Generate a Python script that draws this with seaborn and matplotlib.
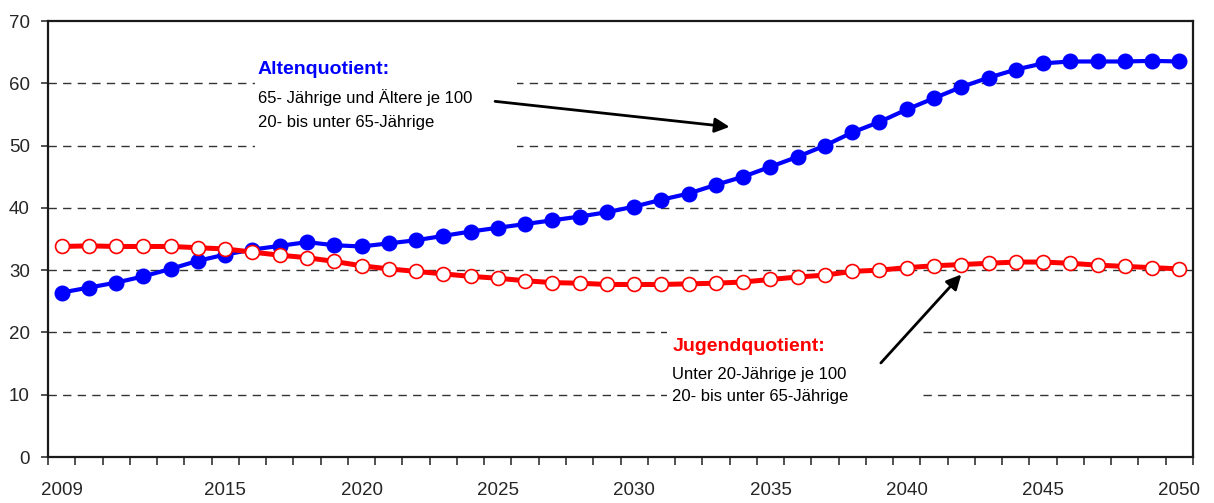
import numpy as np
import pandas as pd
import matplotlib
matplotlib.use("Agg")
import matplotlib.pyplot as plt
import seaborn as sns
from matplotlib.patches import Rectangle
from matplotlib.ticker import FixedLocator

years = list(range(2009, 2051))

# Altenquotient: 65-Jaehrige und Aeltere je 100 20- bis unter 65-Jaehrige
alten = [26.4, 27.2, 28.0, 29.0, 30.2, 31.5, 32.5, 33.3, 33.9, 34.5,
         34.0, 33.8, 34.3, 34.8, 35.5, 36.2, 36.8, 37.4, 38.0, 38.6,
         39.3, 40.2, 41.3, 42.3, 43.7, 45.0, 46.6, 48.2, 50.0, 52.1,
         53.8, 55.8, 57.6, 59.4, 60.9, 62.2, 63.2, 63.5, 63.5, 63.5,
         63.6, 63.5]

# Jugendquotient: Unter 20-Jaehrige je 100 20- bis unter 65-Jaehrige
jugend = [33.8, 33.9, 33.8, 33.8, 33.8, 33.6, 33.4, 32.9, 32.4, 32.0,
          31.4, 30.7, 30.2, 29.8, 29.4, 29.0, 28.7, 28.3, 28.0, 27.9,
          27.7, 27.7, 27.7, 27.8, 27.9, 28.1, 28.5, 28.9, 29.2, 29.8,
          30.0, 30.4, 30.7, 30.9, 31.1, 31.3, 31.3, 31.1, 30.8, 30.6,
          30.4, 30.2]

label_years = [2009, 2015, 2020, 2025, 2030, 2035, 2040, 2045, 2050]

df = pd.DataFrame({"jahr": years, "alten": alten, "jugend": jugend})

sns.set_style("white")
plt.rcParams["font.family"] = ["Liberation Sans", "DejaVu Sans"]

fig = plt.figure(figsize=(12.14, 5.03), dpi=100)
ax = fig.add_axes([48 / 1214, 46 / 503, 1145 / 1214, 436 / 503])

sns.lineplot(data=df, x="jahr", y="alten", ax=ax, color="#0000FF", linewidth=3,
             marker="o", markersize=10.5, markerfacecolor="#0000FF",
             markeredgecolor="#0000FF", markeredgewidth=1, zorder=3)
sns.lineplot(data=df, x="jahr", y="jugend", ax=ax, color="#FF0000", linewidth=3.6,
             marker="o", markersize=10, markerfacecolor="white",
             markeredgecolor="#FF0000", markeredgewidth=1.2, zorder=4)

ax.set_xlim(years[0] - 0.5, years[-1] + 0.5)
ax.set_ylim(0, 70)
ax.set_xlabel("")
ax.set_ylabel("")

# gridlines
ax.set_yticks(range(0, 71, 10))
for v in range(10, 70, 10):
    ax.axhline(v, color="#333333", lw=1, dashes=(6, 4.5), zorder=1)

# axis ticks
ax.set_xticks(label_years)
ax.xaxis.set_minor_locator(FixedLocator(np.arange(years[0] - 0.5, years[-1] + 1, 1)))
ax.tick_params(axis="x", which="major", length=0, pad=18, labelsize=13.5)
ax.tick_params(axis="x", which="minor", length=6, width=1.2, color="#333333", direction="out")
ax.tick_params(axis="y", which="major", length=5, width=1.2, color="#333333",
               direction="out", pad=8, labelsize=13.5)
ax.tick_params(axis="x", which="minor", bottom=True)
ax.tick_params(axis="y", left=True)
for s in ax.spines.values():
    s.set_visible(True)
    s.set_color("#1a1a1a")
    s.set_linewidth(1.6)

# Text boxes (white background hides gridlines)
ax.add_patch(Rectangle((2016.1, 46), 9.6, 20, facecolor="white", edgecolor="none", zorder=2))
ax.add_patch(Rectangle((2031.2, 5), 9.4, 19, facecolor="white", edgecolor="none", zorder=2))

ax.text(2016.2, 61.5, "Altenquotient:", color="#0000FF", fontsize=14, fontweight="bold", zorder=5)
ax.text(2016.2, 56.9, "65- Jährige und Ältere je 100", color="black", fontsize=12, zorder=5)
ax.text(2016.2, 53.0, "20- bis unter 65-Jährige", color="black", fontsize=12, zorder=5)

ax.text(2031.4, 17.0, "Jugendquotient:", color="#FF0000", fontsize=14, fontweight="bold", zorder=5)
ax.text(2031.4, 12.5, "Unter 20-Jährige je 100", color="black", fontsize=12, zorder=5)
ax.text(2031.4, 9.0, "20- bis unter 65-Jährige", color="black", fontsize=12, zorder=5)

arrow = dict(arrowstyle="-|>", color="black", lw=2, mutation_scale=22, shrinkA=0, shrinkB=0)
ax.annotate("", xy=(2033.5, 53.0), xytext=(2024.9, 57.1), arrowprops=arrow, zorder=6)
ax.annotate("", xy=(2042.0, 29.3), xytext=(2039.05, 15.1), arrowprops=arrow, zorder=6)

fig.savefig("out.png", dpi=100)
